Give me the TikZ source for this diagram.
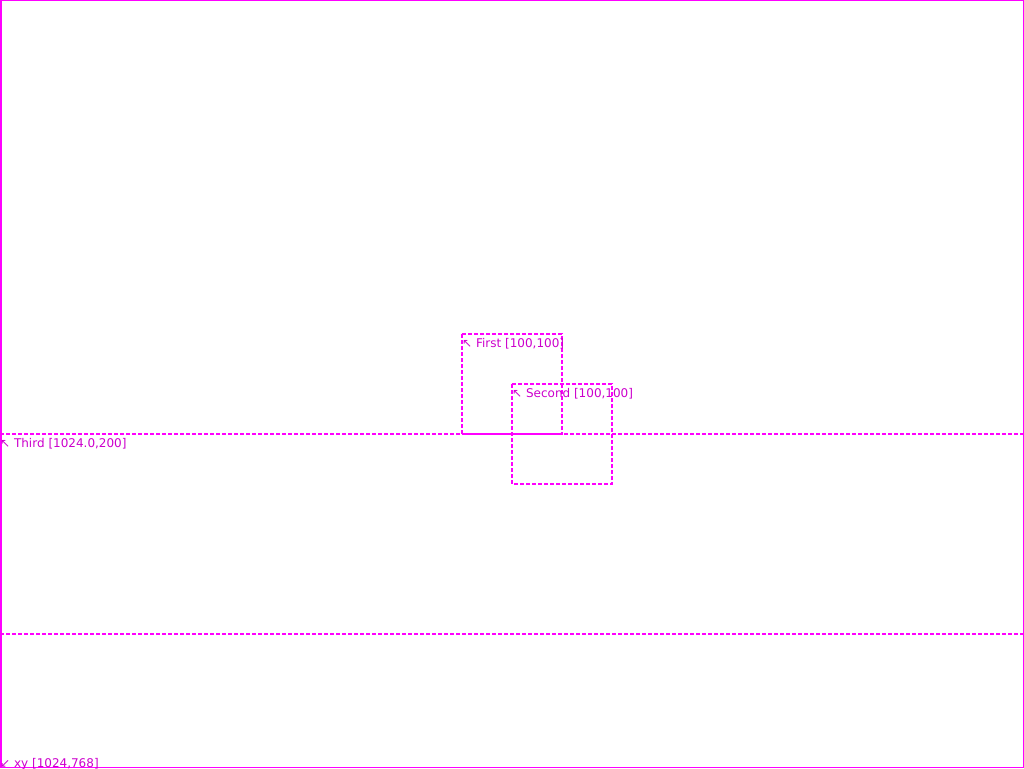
\documentclass[tikz,border=0pt]{standalone}
\usepackage{fontspec}
\setmainfont{DejaVu Sans}
\definecolor{mag}{HTML}{FF00FF}
\definecolor{magtext}{HTML}{CC00CC}
\begin{document}
\begin{tikzpicture}[x=1pt,y=-1pt,
  dashline/.style={draw=mag, line width=1.4pt, dash pattern=on 4pt off 2pt},
  lbl/.style={text=magtext, font=\fontsize{12}{14}\selectfont, inner sep=0pt, anchor=west}]
\useasboundingbox (0,0) rectangle (1024,768);
\draw[mag, line width=1.5pt] (0.75,0.75) rectangle (1023.25,767.25);
\draw[dashline] (462,334) rectangle (562,434);
\draw[dashline] (512,384) rectangle (612,484);
\draw[dashline] (0,434) -- (1024,434);
\draw[dashline] (0,634) -- (1024,634);
\node[lbl] (first) at (462,344) {↖ First [100,100]};
\node[lbl] (second) at (512,394) {↖ Second [100,100]};
\node[lbl] (third) at (0,444) {↖ Third [1024.0,200]};
\node[lbl] (xy) at (0,764) {↙ xy [1024,768]};
\end{tikzpicture}
\end{document}
